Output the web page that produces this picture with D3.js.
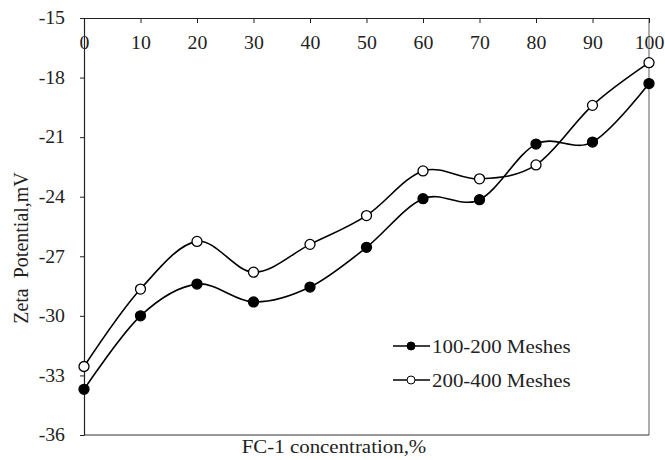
<!DOCTYPE html>
<html>
<head>
<meta charset="utf-8">
<script src="https://cdnjs.cloudflare.com/ajax/libs/d3/7.8.5/d3.min.js"></script>
<style>
  body { margin: 0; background: #fff; }
  text { font-family: "Liberation Serif", "Times New Roman", serif; fill: #222; }
</style>
</head>
<body>
<div class="chart"></div>
<script>
var concentration = [0, 10, 20, 30, 40, 50, 60, 70, 80, 90, 100];
var mesh100_200 = [-33.7, -30.0, -28.4, -29.3, -28.55, -26.55, -24.1, -24.15, -21.35, -21.25, -18.3];
var mesh200_400 = [-32.55, -28.65, -26.25, -27.8, -26.4, -24.95, -22.7, -23.1, -22.4, -19.4, -17.25];
var xTicks = [0, 10, 20, 30, 40, 50, 60, 70, 80, 90, 100];
var yTicks = [-36, -33, -30, -27, -24, -21, -18, -15];

var width = 665, height = 460;
var plotLeft = 84, plotRight = 649, plotTop = 18, plotBottom = 435;
var stretch = 1.1; // the source text is a little wider than Liberation Serif

var svg = d3.select('.chart')
    .append('svg')
    .attr('width', width)
    .attr('height', height);

var x = d3.scaleLinear().domain([0, 100]).range([plotLeft, plotRight]);
var y = d3.scaleLinear().domain([-36, -15]).range([plotBottom, plotTop]);

// frame: right and bottom borders
svg.append('line')
    .attr('x1', plotRight).attr('x2', plotRight)
    .attr('y1', plotTop).attr('y2', plotBottom)
    .attr('stroke', '#777').attr('stroke-width', 1.2);
svg.append('line')
    .attr('x1', plotLeft).attr('x2', plotRight)
    .attr('y1', plotBottom).attr('y2', plotBottom)
    .attr('stroke', '#333').attr('stroke-width', 1.2);

// top x axis, ticks point into the plot, labels under the line
var xAxis = svg.append('g')
    .attr('transform', 'translate(0,' + plotTop + ')')
    .call(d3.axisBottom(x).tickValues(xTicks).tickSize(5).tickSizeOuter(0)
        .tickFormat(function (d) { return String(d); }));
xAxis.select('.domain').attr('stroke', '#222').attr('stroke-width', 1.2);
xAxis.selectAll('.tick line').attr('stroke', '#222');
xAxis.selectAll('.tick text')
    .attr('y', 31).attr('dy', 0)
    .attr('transform', 'scale(' + stretch + ',1)')
    .style('font-size', '18px')
    .style('font-family', '"Liberation Serif", serif')
    .attr('fill', '#222');

// left y axis
var yAxis = svg.append('g')
    .attr('transform', 'translate(' + plotLeft + ',0)')
    .call(d3.axisLeft(y).tickValues(yTicks).tickSize(4).tickSizeOuter(0)
        .tickFormat(function (d) { return String(d); }));
yAxis.select('.domain').attr('stroke', '#222').attr('stroke-width', 1.2);
yAxis.selectAll('.tick line').attr('stroke', '#222');
yAxis.selectAll('.tick text')
    .attr('x', -19 / stretch)
    .attr('transform', 'scale(' + stretch + ',1)')
    .style('font-size', '18px')
    .style('font-family', '"Liberation Serif", serif')
    .attr('fill', '#222');

// axis titles
svg.append('text')
    .attr('transform', 'translate(334,453) scale(' + stretch + ',1)')
    .attr('text-anchor', 'middle')
    .style('font-size', '19px')
    .text('FC-1 concentration,%');

svg.append('text')
    .attr('transform', 'translate(28,248) rotate(-90)')
    .attr('text-anchor', 'middle')
    .style('font-size', '20px')
    .style('white-space', 'pre')
    .text('Zeta  Potential,mV');

var line = d3.line()
    .x(function (d, i) { return x(concentration[i]); })
    .y(function (d) { return y(d); })
    .curve(d3.curveCardinal.tension(0));

var series = [
    { name: '100-200 Meshes', values: mesh100_200, fill: '#000' },
    { name: '200-400 Meshes', values: mesh200_400, fill: '#fff' }
];

series.forEach(function (s) {
    svg.append('path')
        .attr('d', line(s.values))
        .attr('fill', 'none')
        .attr('stroke', '#000')
        .attr('stroke-width', 1.6);
});

series.forEach(function (s) {
    svg.selectAll(null)
        .data(s.values)
        .enter()
        .append('circle')
        .attr('cx', function (d, i) { return x(concentration[i]); })
        .attr('cy', function (d) { return y(d); })
        .attr('r', 5)
        .attr('fill', s.fill)
        .attr('stroke', '#000')
        .attr('stroke-width', 1.3);
});

//Legend
var legend = svg.append('g');
series.forEach(function (s, i) {
    var ly = 346 + i * 34;
    legend.append('line')
        .attr('x1', 393).attr('x2', 430)
        .attr('y1', ly).attr('y2', ly)
        .attr('stroke', '#000').attr('stroke-width', 1.6);
    legend.append('circle')
        .attr('cx', 411).attr('cy', ly)
        .attr('r', 4)
        .attr('fill', s.fill)
        .attr('stroke', '#000')
        .attr('stroke-width', 1);
    legend.append('text')
        .attr('transform', 'translate(432,' + (ly + 7) + ') scale(' + stretch + ',1)')
        .style('font-size', '19px')
        .text(s.name);
});
</script>
</body>
</html>
